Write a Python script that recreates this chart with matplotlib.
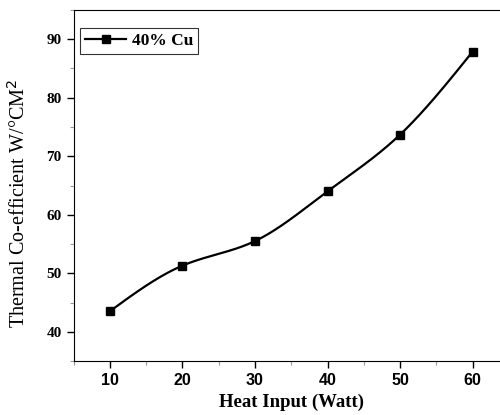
import matplotlib
matplotlib.use("Agg")
import matplotlib.pyplot as plt
import numpy as np
from matplotlib.ticker import MultipleLocator

heat_input = [10, 20, 30, 40, 50, 60]
coefficient = [43.5, 51.3, 55.5, 64.0, 73.7, 87.9]
series_label = "40% Cu"


def natural_spline(x, y, n=300):
    x = np.asarray(x, float)
    y = np.asarray(y, float)
    k = len(x)
    h = np.diff(x)
    A = np.zeros((k, k))
    b = np.zeros(k)
    A[0, 0] = A[-1, -1] = 1
    for i in range(1, k - 1):
        A[i, i - 1] = h[i - 1]
        A[i, i] = 2 * (h[i - 1] + h[i])
        A[i, i + 1] = h[i]
        b[i] = 3 * ((y[i + 1] - y[i]) / h[i] - (y[i] - y[i - 1]) / h[i - 1])
    c = np.linalg.solve(A, b)
    xs = np.linspace(x[0], x[-1], n)
    ys = np.empty_like(xs)
    for j, xv in enumerate(xs):
        i = min(np.searchsorted(x, xv, side="right") - 1, k - 2)
        dx = xv - x[i]
        bi = (y[i + 1] - y[i]) / h[i] - h[i] * (2 * c[i] + c[i + 1]) / 3
        di = (c[i + 1] - c[i]) / (3 * h[i])
        ys[j] = y[i] + bi * dx + c[i] * dx ** 2 + di * dx ** 3
    return xs, ys


fig = plt.figure(figsize=(5, 4.15), dpi=100)
ax = fig.add_axes([0.147, 0.13, 0.871, 0.846])

xs, ys = natural_spline(heat_input, coefficient)
ax.plot(xs, ys, color="black", lw=1.6)
ax.plot(heat_input, coefficient, "s", color="black", ms=6)
ax.plot([], [], "-s", color="black", lw=1.6, ms=6, label=series_label)

ax.set_xlim(5, 65)
ax.set_ylim(35, 95)
ax.xaxis.set_major_locator(MultipleLocator(10))
ax.xaxis.set_minor_locator(MultipleLocator(5))
ax.yaxis.set_major_locator(MultipleLocator(10))
ax.yaxis.set_minor_locator(MultipleLocator(5))
ax.tick_params(which="major", direction="out", length=5, width=1)
ax.tick_params(which="minor", direction="out", length=3, width=0.8, colors="#999999")
ax.spines["right"].set_visible(False)

for lab in ax.get_xticklabels():
    lab.set_fontfamily("Liberation Sans")
    lab.set_fontweight("bold")
    lab.set_fontsize(11.5)
for lab in ax.get_yticklabels():
    lab.set_fontfamily("Liberation Serif")
    lab.set_fontweight("bold")
    lab.set_fontsize(11)

ax.set_xlabel("Heat Input (Watt)", family="Liberation Serif", fontweight="bold", fontsize=13.5)
ax.set_ylabel("Thermal Co-efficient W/°CM$^2$", family="Liberation Serif", fontsize=14.5)
ax.yaxis.set_label_coords(-0.10, 0.45)

leg = ax.legend(loc="upper left", bbox_to_anchor=(0.014, 0.95), frameon=True, fancybox=False,
                edgecolor="black", handlelength=2.4, handletextpad=0.3, borderpad=0.3,
                borderaxespad=0,
                prop={"family": "Liberation Serif", "weight": "bold", "size": 12.5})
leg.get_frame().set_linewidth(0.8)

fig.savefig("out.png", dpi=100)
